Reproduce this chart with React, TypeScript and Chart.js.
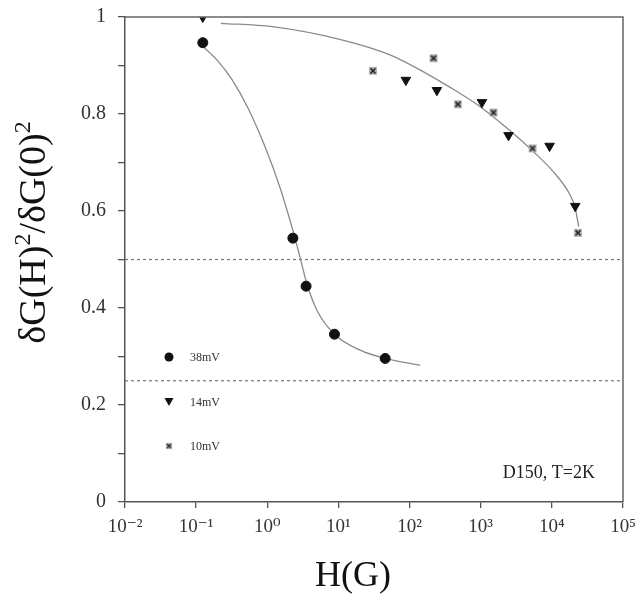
import React, { useEffect, useRef } from "react";
import { Chart, registerables } from "chart.js";

Chart.register(...registerables);

// ---- data ----
const seriesLabels = ["38mV", "14mV", "10mV"];

const field38 = [0.124, 2.29, 3.51, 8.8, 45.4];
const ratio38 = [0.947, 0.544, 0.445, 0.346, 0.296];

const field14 = [0.124, 88.7, 242, 1040, 2460, 9290, 21300];
const ratio14 = [1.0, 0.87, 0.849, 0.824, 0.756, 0.734, 0.61];

const field10 = [30.5, 217, 478, 1510, 5350, 23300];
const ratio10 = [0.889, 0.915, 0.82, 0.803, 0.729, 0.555];

const fitField38 = [0.123, 0.2, 0.316, 0.537, 0.933, 1.48, 2.29, 2.88, 3.6, 5.0, 8.8, 20.2, 45.4, 141];
const fitRatio38 = [0.94, 0.91, 0.872, 0.812, 0.732, 0.652, 0.56, 0.505, 0.45, 0.395, 0.346, 0.313, 0.296, 0.282];

const fitFieldHigh = [0.222, 1.18, 11.1, 53, 157, 372, 984, 2330, 5530, 10600, 18200, 21400, 23800];
const fitRatioHigh = [0.987, 0.98, 0.953, 0.922, 0.887, 0.855, 0.815, 0.771, 0.722, 0.68, 0.632, 0.605, 0.568];

const refLevels = [0.5, 0.25];
const xRange = [0.01, 100000];

const xTickValues = [0.01, 0.1, 1, 10, 100, 1000, 10000, 100000];
const xTickLabels = ["10⁻²", "10⁻¹", "10⁰", "10¹", "10²", "10³", "10⁴", "10⁵"];
const yTickValues = [0, 0.1, 0.2, 0.3, 0.4, 0.5, 0.6, 0.7, 0.8, 0.9, 1];
const yTickLabels = ["0", "", "0.2", "", "0.4", "", "0.6", "", "0.8", "", "1"];

// y title as [text, isSuperscript] pieces: δG(H)²/δG(0)²
const yTitleParts: [string, boolean][] = [
  ["δG(H)", false],
  ["2", true],
  ["/δG(0)", false],
  ["2", true],
];
const xTitle = "H(G)";
const note = "D150, T=2K";

const SERIF = "'Liberation Serif', 'DejaVu Serif', serif";

function pts(xs: number[], ys: number[]) {
  return xs.map((x, i) => ({ x, y: ys[i] }));
}

function makeBoxX(): HTMLCanvasElement {
  const c = document.createElement("canvas");
  c.width = 10;
  c.height = 10;
  const g = c.getContext("2d")!;
  g.fillStyle = "#b5b5b5";
  g.fillRect(1, 1, 8, 8);
  g.strokeStyle = "#222";
  g.lineWidth = 1.7;
  g.beginPath();
  g.moveTo(2.5, 2.5);
  g.lineTo(7.5, 7.5);
  g.moveTo(7.5, 2.5);
  g.lineTo(2.5, 7.5);
  g.stroke();
  return c;
}

export default function App() {
  const ref = useRef<HTMLCanvasElement>(null);

  useEffect(() => {
    const boxX = makeBoxX();

    const decorPlugin = {
      id: "decor",
      afterDraw(chart: any) {
        const { ctx, chartArea: a } = chart;
        ctx.save();
        // frame (top and right)
        ctx.strokeStyle = "#666";
        ctx.lineWidth = 1.5;
        ctx.beginPath();
        ctx.moveTo(a.left, a.top);
        ctx.lineTo(a.right, a.top);
        ctx.lineTo(a.right, a.bottom);
        ctx.stroke();

        // legend inside plot
        const lx = a.left + 44;
        const tx = a.left + 65;
        const ly0 = a.top + 340;
        const gap = 44.5;
        ctx.font = `12px ${SERIF}`;
        ctx.textBaseline = "middle";
        ctx.textAlign = "left";
        seriesLabels.forEach((lab, i) => {
          const y = ly0 + i * gap;
          ctx.fillStyle = "#111";
          if (i === 0) {
            ctx.beginPath();
            ctx.arc(lx, y, 4.5, 0, Math.PI * 2);
            ctx.fill();
          } else if (i === 1) {
            ctx.beginPath();
            ctx.moveTo(lx - 4.5, y - 3.5);
            ctx.lineTo(lx + 4.5, y - 3.5);
            ctx.lineTo(lx, y + 4.5);
            ctx.closePath();
            ctx.fill();
          } else {
            ctx.drawImage(boxX, lx - 4, y - 4, 8, 8);
          }
          ctx.fillStyle = "#333";
          ctx.fillText(lab, tx, y + 1);
        });

        // annotation
        ctx.font = `18px ${SERIF}`;
        ctx.fillStyle = "#222";
        ctx.textAlign = "right";
        ctx.fillText(note, a.right - 28, a.bottom - 29);

        // x axis title
        ctx.fillStyle = "#111";
        ctx.textAlign = "center";
        ctx.font = `36px ${SERIF}`;
        ctx.fillText(xTitle, a.left + 228, a.bottom + 75);

        // y axis title with real superscripts
        const F = 38;
        const S = 24;
        ctx.translate(a.left - 80, (a.top + a.bottom) / 2 - 27);
        ctx.rotate(-Math.PI / 2);
        ctx.textAlign = "left";
        ctx.textBaseline = "alphabetic";
        let total = 0;
        const widths = yTitleParts.map(([t, sup]) => {
          ctx.font = `${sup ? S : F}px ${SERIF}`;
          const w = ctx.measureText(t).width;
          total += w;
          return w;
        });
        let cx = -total / 2;
        yTitleParts.forEach(([t, sup], i) => {
          ctx.font = `${sup ? S : F}px ${SERIF}`;
          ctx.fillText(t, cx, sup ? -F * 0.4 : 0);
          cx += widths[i];
        });
        ctx.restore();
      },
    };

    const lineBase = {
      type: "line" as const,
      showLine: true,
      pointRadius: 0,
      fill: false,
      order: 2,
    };

    const chart = new Chart(ref.current!, {
      type: "scatter",
      data: {
        datasets: [
          {
            label: seriesLabels[0],
            data: pts(field38, ratio38),
            pointStyle: "circle",
            pointRadius: 5,
            backgroundColor: "#111",
            borderColor: "#111",
            order: 0,
          },
          {
            label: seriesLabels[1],
            data: pts(field14, ratio14),
            pointStyle: "triangle",
            rotation: 180,
            pointRadius: 5.5,
            backgroundColor: "#111",
            borderColor: "#111",
            order: 0,
          },
          {
            label: seriesLabels[2],
            data: pts(field10, ratio10),
            pointStyle: boxX as any,
            order: 0,
          },
          {
            ...lineBase,
            label: "fit38",
            data: pts(fitField38, fitRatio38),
            borderColor: "#8a8a8a",
            borderWidth: 1.3,
            cubicInterpolationMode: "monotone",
          },
          {
            ...lineBase,
            label: "fitHigh",
            data: pts(fitFieldHigh, fitRatioHigh),
            borderColor: "#8a8a8a",
            borderWidth: 1.3,
            cubicInterpolationMode: "monotone",
          },
          ...refLevels.map((lv) => ({
            ...lineBase,
            label: "ref" + lv,
            data: pts(xRange, [lv, lv]),
            borderColor: "#777",
            borderWidth: 1.2,
            borderDash: [3, 3],
          })),
        ] as any,
      },
      options: {
        animation: false,
        responsive: false,
        devicePixelRatio: 1,
        layout: {
          autoPadding: false,
          padding: { left: 0, right: 17, top: 17, bottom: 0 },
        } as any,
        plugins: {
          legend: { display: false },
          tooltip: { enabled: false },
          title: { display: false },
        },
        scales: {
          x: {
            type: "logarithmic",
            min: xRange[0],
            max: xRange[1],
            afterBuildTicks: (s: any) => {
              s.ticks = xTickValues.map((v) => ({ value: v }));
            },
            afterFit: (s: any) => {
              s.height = 101;
              s.paddingLeft = 0;
              s.paddingRight = 0;
            },
            ticks: {
              autoSkip: false,
              maxRotation: 0,
              padding: 8,
              color: "#333",
              font: { family: SERIF, size: 19 },
              callback: (v: any) => {
                const i = xTickValues.findIndex((t) => Math.abs(Math.log10(t) - Math.log10(Number(v))) < 1e-6);
                return i >= 0 ? xTickLabels[i] : "";
              },
            },
            grid: {
              drawOnChartArea: false,
              drawTicks: true,
              tickLength: 6,
              color: "#555",
              lineWidth: 1.3,
            },
            border: { color: "#555", width: 1.5 },
          },
          y: {
            type: "linear",
            min: 0,
            max: 1,
            afterBuildTicks: (s: any) => {
              s.ticks = yTickValues.map((v) => ({ value: v }));
            },
            afterFit: (s: any) => {
              s.width = 125;
              s.paddingTop = 0;
              s.paddingBottom = 0;
            },
            ticks: {
              autoSkip: false,
              padding: 12,
              color: "#333",
              font: { family: SERIF, size: 20 },
              callback: (v: any) => {
                const i = yTickValues.findIndex((t) => Math.abs(t - Number(v)) < 1e-6);
                return i >= 0 ? yTickLabels[i] : "";
              },
            },
            grid: {
              drawOnChartArea: false,
              drawTicks: true,
              tickLength: 7,
              color: "#555",
              lineWidth: 1.3,
            },
            border: { color: "#555", width: 1.5 },
          },
        },
      },
      plugins: [decorPlugin],
    } as any);

    return () => chart.destroy();
  }, []);

  return (
    <div style={{ position: "fixed", left: 0, top: 0, width: 640, height: 603, background: "#fff" }}>
      <canvas ref={ref} width={640} height={603} style={{ display: "block", width: 640, height: 603 }} />
    </div>
  );
}
